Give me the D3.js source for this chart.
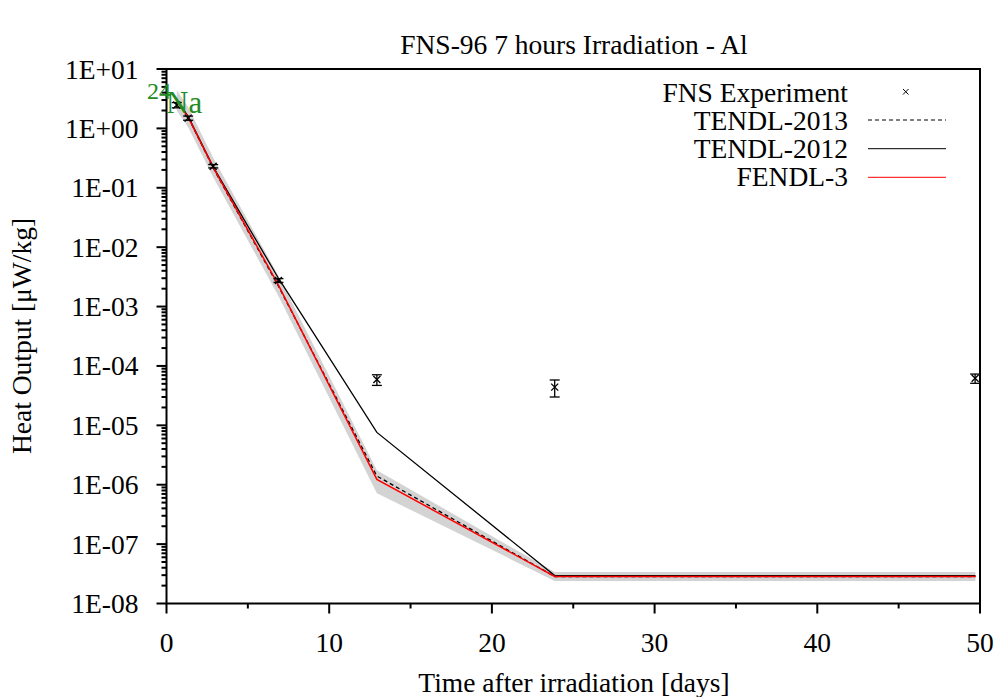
<!doctype html>
<html lang="en">
  <head>
    <meta charset="utf-8">
    <title>FNS-96 7 hours Irradiation - Al</title>
    <script src="https://d3js.org/d3.v7.min.js"></script>
    <style>
      body { margin: 0; background: #fff; }
      text { font-family: "Liberation Serif", "Times New Roman", serif; fill: #000; }
    </style>
  </head>

  <body>
    <svg width="1001" height="697"></svg>

    <script>
      // times after irradiation [days]
      var times = [0.63, 1.33, 2.87, 6.88, 12.93, 23.86, 49.72];

      // FNS experiment
      var expX = [0.63, 1.33, 2.87, 6.88, 12.93, 23.86, 49.7];
      var expY = [2.47, 1.49, 0.231, 2.75e-3, 5.9e-5, 4.4e-5, 6.2e-5];
      var expErr = [0.25, 0.12, 0.015, 0.2e-3, 1.2e-5, 1.4e-5, 1.1e-5];

      // calculations
      var tendl2013 = [3.0, 1.55, 0.215, 2.2e-3, 1.4e-6, 2.85e-8, 2.85e-8];
      var tendl2012 = [3.0, 1.6, 0.225, 3.0e-3, 7.6e-6, 2.95e-8, 2.95e-8];
      var fendl3 = [3.0, 1.55, 0.22, 2.3e-3, 1.23e-6, 2.85e-8, 2.85e-8];

      // uncertainty band round FENDL-3
      var bandHigh = [4.4, 2.3, 0.32, 3.3e-3, 1.75e-6, 3.4e-8, 3.4e-8];
      var bandLow = [2.0, 1.05, 0.15, 1.5e-3, 7.2e-7, 2.4e-8, 2.4e-8];

      var xTicks = [0, 10, 20, 30, 40, 50];
      var yTicks = [1e1, 1e0, 1e-1, 1e-2, 1e-3, 1e-4, 1e-5, 1e-6, 1e-7, 1e-8];
      var yTickLabels = ["1E+01", "1E+00", "1E-01", "1E-02", "1E-03", "1E-04", "1E-05", "1E-06", "1E-07", "1E-08"];

      var legendNames = ["FNS Experiment", "TENDL-2013", "TENDL-2012", "FENDL-3"];

      var svg = d3.select('svg');
      var mLeft = 166.5, mRight = 980, mTop = 69, mBottom = 603.5;
      var fs = 27.5;

      var x = d3.scaleLinear().domain([0, 50]).range([mLeft, mRight]);
      var y = d3.scaleLog().domain([1e-8, 1e1]).range([mBottom, mTop]);

      // band
      var area = d3.area()
        .x(function(d){ return x(d.t); })
        .y0(function(d){ return y(d.lo); })
        .y1(function(d){ return y(d.hi); });
      svg.append('path')
        .datum(times.map(function(t, i){ return {t: t, lo: bandLow[i], hi: bandHigh[i]}; }))
        .attr('d', area)
        .attr('fill', '#d3d3d3');

      var line = d3.line()
        .x(function(d){ return x(d[0]); })
        .y(function(d){ return y(d[1]); });

      var pts = function(vals){ return times.map(function(t, i){ return [t, vals[i]]; }); };

      svg.append('path').attr('d', line(pts(tendl2013)))
        .attr('fill', 'none').attr('stroke', '#000').attr('stroke-width', 1.3)
        .attr('stroke-dasharray', '4,3');
      svg.append('path').attr('d', line(pts(tendl2012)))
        .attr('fill', 'none').attr('stroke', '#000').attr('stroke-width', 1.3);
      svg.append('path').attr('d', line(pts(fendl3)))
        .attr('fill', 'none').attr('stroke', '#f00').attr('stroke-width', 1.5);

      // experiment points with error bars
      var exp = svg.append('g').attr('stroke', '#000').attr('stroke-width', 1.3);
      expX.forEach(function(t, i){
        var cx = x(t), cy = y(expY[i]);
        var y0 = y(expY[i] - expErr[i]), y1 = y(expY[i] + expErr[i]);
        exp.append('line').attr('x1', cx).attr('x2', cx).attr('y1', y0).attr('y2', y1);
        exp.append('line').attr('x1', cx - 5).attr('x2', cx + 5).attr('y1', y0).attr('y2', y0);
        exp.append('line').attr('x1', cx - 5).attr('x2', cx + 5).attr('y1', y1).attr('y2', y1);
        exp.append('path').attr('d', 'M' + (cx - 3.5) + ',' + (cy - 3.5) + 'l7,7M' + (cx - 3.5) + ',' + (cy + 3.5) + 'l7,-7');
      });

      // frame
      svg.append('rect').attr('x', mLeft).attr('y', mTop)
        .attr('width', mRight - mLeft).attr('height', mBottom - mTop)
        .attr('fill', 'none').attr('stroke', '#000').attr('stroke-width', 2);

      // y ticks (outward, with minor)
      var yMinor = [];
      yTicks.slice(1).forEach(function(v){
        for (var k = 2; k <= 9; k++) yMinor.push(v * k);
      });
      svg.append('g').selectAll('line').data(yMinor).enter().append('line')
        .attr('x1', mLeft - 5).attr('x2', mLeft).attr('y1', y).attr('y2', y)
        .attr('stroke', '#000').attr('stroke-width', 2);
      svg.append('g').selectAll('line').data(yTicks).enter().append('line')
        .attr('x1', mLeft - 10).attr('x2', mLeft).attr('y1', y).attr('y2', y)
        .attr('stroke', '#000').attr('stroke-width', 2);
      svg.append('g').selectAll('text').data(yTicks).enter().append('text')
        .attr('x', mLeft - 28).attr('y', function(d){ return y(d) + 9.5; })
        .attr('text-anchor', 'end').style('font-size', fs + 'px')
        .text(function(d, i){ return yTickLabels[i]; });

      // x ticks (outward)
      svg.append('g').selectAll('line').data(d3.range(0, 51, 5)).enter().append('line')
        .attr('x1', x).attr('x2', x).attr('y1', mBottom)
        .attr('y2', function(d){ return d % 10 === 0 ? mBottom + 10 : mBottom + 5; })
        .attr('stroke', '#000').attr('stroke-width', 2);
      svg.append('g').selectAll('text').data(xTicks).enter().append('text')
        .attr('x', x).attr('y', mBottom + 48.5)
        .attr('text-anchor', 'middle').style('font-size', fs + 'px')
        .text(function(d){ return d; });

      // titles
      svg.append('text').attr('x', 574).attr('y', 54).attr('text-anchor', 'middle')
        .style('font-size', fs + 'px').text('FNS-96 7 hours Irradiation - Al');
      svg.append('text').attr('x', 574).attr('y', 692).attr('text-anchor', 'middle')
        .style('font-size', fs + 'px').text('Time after irradiation [days]');
      svg.append('text').attr('transform', 'translate(31,336) rotate(-90)').attr('text-anchor', 'middle')
        .style('font-size', fs + 'px').text('Heat Output [\u03bcW/kg]');

      // 24Na label
      var na = svg.append('text').attr('x', 147).attr('y', 113).style('font-size', '31px').style('fill', '#228b22');
      na.append('tspan').attr('dy', -14).style('font-size', '24px').style('fill', '#228b22').text('24');
      na.append('tspan').attr('dy', 14).attr('dx', -5).style('fill', '#228b22').text('Na');

      // legend
      var lg = svg.append('g');
      legendNames.forEach(function(name, i){
        var ly = 92.5 + i * 28.3;
        lg.append('text').attr('x', 848).attr('y', ly + 9).attr('text-anchor', 'end')
          .style('font-size', fs + 'px').text(name);
      });
      lg.append('path').attr('d', 'M903,89l5.5,5.5M903,94.5l5.5,-5.5').attr('stroke', '#000').attr('stroke-width', 1);
      lg.append('line').attr('x1', 868).attr('x2', 946).attr('y1', 120).attr('y2', 120)
        .attr('stroke', '#000').attr('stroke-width', 1).attr('stroke-dasharray', '4,3');
      lg.append('line').attr('x1', 868).attr('x2', 946).attr('y1', 148.7).attr('y2', 148.7)
        .attr('stroke', '#000').attr('stroke-width', 1);
      lg.append('line').attr('x1', 868).attr('x2', 946).attr('y1', 177.3).attr('y2', 177.3)
        .attr('stroke', '#f00').attr('stroke-width', 1);
    </script>
  </body>
</html>
